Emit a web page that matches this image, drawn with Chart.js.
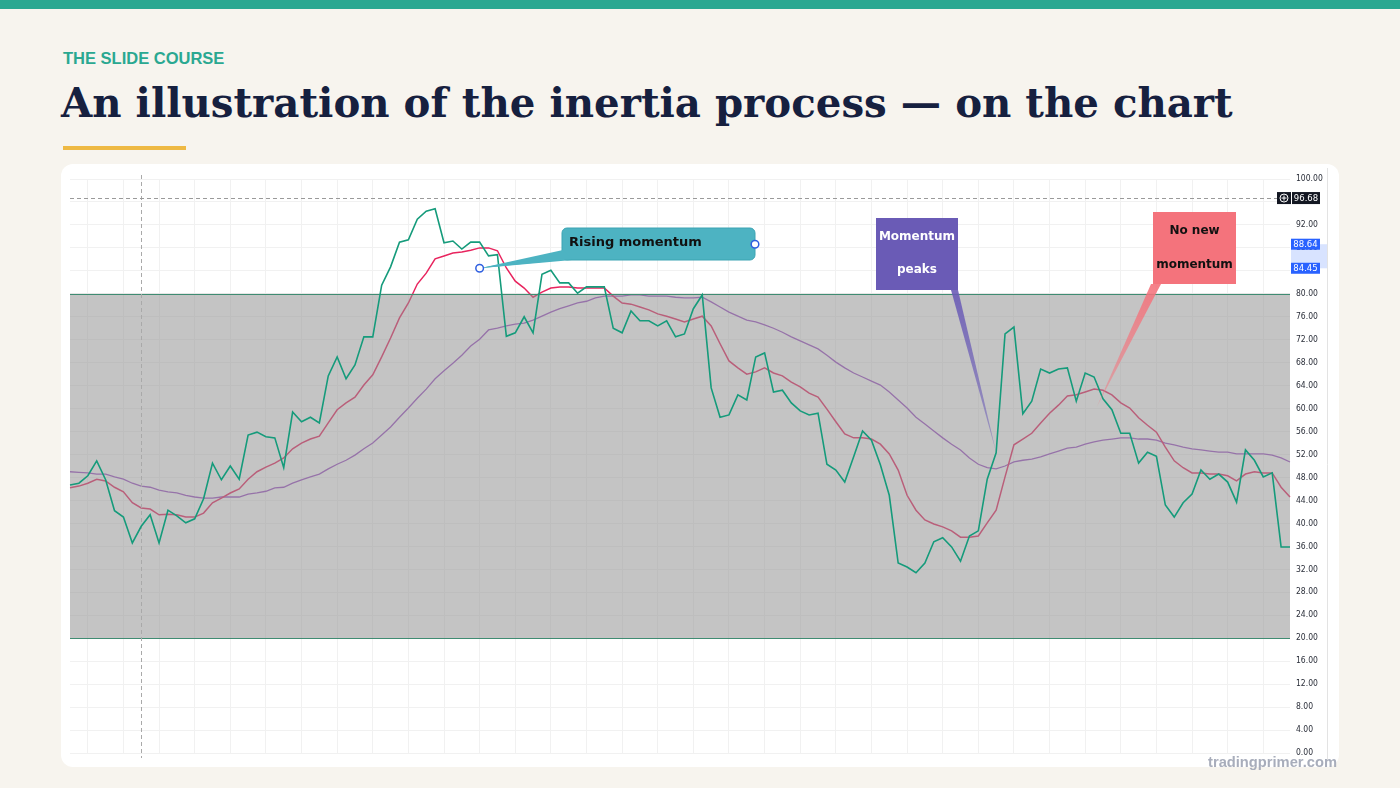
<!DOCTYPE html>
<html><head><meta charset="utf-8">
<script src="https://cdn.jsdelivr.net/npm/chart.js@4.4.1/dist/chart.umd.min.js"></script>
<style>
html,body{margin:0;padding:0;}
body{width:1400px;height:788px;background:#f7f4ee;position:relative;overflow:hidden;font-family:"Liberation Sans",Arial,sans-serif;}
.topbar{position:absolute;left:0;top:0;width:1400px;height:9px;background:#2aa891;}
.kicker{position:absolute;left:63px;top:48px;font-size:16.5px;font-weight:bold;color:#2aa891;line-height:20px;white-space:nowrap;}
.title{position:absolute;left:61px;top:78px;font-family:"DejaVu Serif";font-weight:bold;font-size:40.3px;color:#16203f;white-space:nowrap;line-height:50px;}
.rule{position:absolute;left:63px;top:146px;width:123px;height:4px;background:#eeb944;}
.card{position:absolute;left:61px;top:164px;width:1278px;height:603px;background:#fff;border-radius:12px;}
#wrap{position:absolute;left:61px;top:164px;width:1278px;height:603px;}
.wm{position:absolute;right:63px;top:754px;font-weight:bold;font-size:14.7px;color:#a8adbb;white-space:nowrap;}
</style>
</head><body>
<div class="topbar"></div>
<div class="kicker">THE SLIDE COURSE</div>
<div class="title" id="title">An illustration of the inertia process — on the chart</div>
<div class="rule"></div>
<div class="card"></div>
<div id="wrap"><canvas id="c" width="1278" height="603"></canvas></div>
<div class="wm">tradingprimer.com</div>
<script>
// ---- data ----
const oscillator = [46.7,47.0,48.3,50.9,47.6,42.2,41.1,36.6,39.5,41.5,
 36.6,42.3,41.3,40.1,40.8,44.3,50.5,47.6,50.0,47.7,
 55.4,55.9,55.1,54.9,49.7,59.4,57.7,58.5,57.5,65.7,
 69.0,65.2,67.6,72.5,72.5,81.5,84.7,89.0,89.4,93.0,
 94.4,94.8,88.9,89.2,87.8,89.0,89.0,86.6,86.8,72.6,
 73.2,76.0,73.2,83.4,84.1,81.9,81.9,80.1,81.2,81.2,
 81.2,74.0,73.2,77.0,75.3,75.3,74.4,75.3,72.5,73.0,
 77.4,79.8,63.6,58.5,58.9,62.4,61.5,69.0,69.7,62.9,
 63.2,61.0,59.6,58.9,59.2,50.3,49.3,47.2,51.6,56.1,
 54.5,50.2,44.9,33.1,32.4,31.4,33.1,36.8,37.5,35.9,
 33.4,37.8,38.7,47.7,52.3,73.0,74.2,59.1,61.3,66.9,
 66.2,66.9,67.1,61.3,66.2,65.5,61.7,59.8,55.7,55.7,
 50.5,52.4,51.7,43.2,41.1,43.6,45.1,49.3,47.7,48.6,
 47.2,43.7,52.8,51.0,48.1,48.8,35.9,35.9];
const fastAverage = [46.2,46.5,47.0,47.7,47.4,46.3,45.5,43.6,42.7,42.5,
 41.5,41.6,41.5,41.1,41.1,41.8,43.6,44.4,45.3,46.0,
 47.7,49.0,49.8,50.5,51.4,53.0,54.0,54.7,55.2,57.5,
 59.8,61.0,62.0,64.1,65.9,69.0,72.3,75.8,78.4,81.7,
 83.6,86.1,86.6,87.1,87.3,87.6,88.0,88.0,87.5,84.5,
 82.2,81.0,79.4,80.3,81.0,81.2,81.2,81.0,81.0,81.0,
 81.0,79.6,78.4,78.2,77.7,77.2,76.5,76.1,75.6,75.1,
 75.6,76.1,74.4,71.3,68.3,67.1,66.0,66.4,67.1,66.2,
 65.7,64.6,63.8,62.7,62.0,59.9,57.7,55.6,54.9,54.9,
 54.7,53.8,52.1,49.3,44.9,42.3,40.6,39.9,39.4,38.7,
 37.6,37.6,37.8,40.1,42.3,48.1,53.7,54.7,55.7,57.5,
 59.2,60.6,62.2,62.4,62.9,63.4,63.2,62.4,61.0,60.1,
 58.4,57.1,55.9,53.3,50.9,49.7,48.8,48.8,48.6,48.6,
 48.3,47.4,48.6,49.0,48.8,48.8,46.3,44.6];
const slowAverage = [49.0,48.9,48.8,48.6,48.6,48.1,47.7,47.0,46.5,46.3,
 45.8,45.5,45.3,44.9,44.6,44.4,44.4,44.6,44.6,44.6,
 45.1,45.3,45.6,46.2,46.3,47.0,47.6,48.1,48.6,49.5,
 50.3,51.0,51.9,53.0,54.0,55.4,56.8,58.5,60.1,61.8,
 63.4,65.2,66.6,67.9,69.3,70.9,72.1,73.7,74.0,74.4,
 74.7,74.9,75.4,76.1,76.8,77.4,77.9,78.4,78.7,79.3,
 79.6,79.6,79.6,79.8,79.8,79.6,79.6,79.6,79.4,79.3,
 79.3,79.4,78.6,77.7,76.8,76.1,75.4,75.1,74.6,74.0,
 73.3,72.5,71.8,71.1,70.4,69.3,68.1,67.1,66.2,65.5,
 64.8,64.1,62.9,61.5,60.1,58.5,57.3,56.1,54.9,53.8,
 52.8,51.4,50.3,49.7,49.5,50.0,50.7,51.0,51.2,51.6,
 52.1,52.6,53.1,53.3,53.8,54.2,54.5,54.7,54.9,54.9,
 54.7,54.7,54.5,54.0,53.7,53.3,53.0,52.8,52.6,52.4,
 52.4,52.1,52.1,52.1,52.1,51.9,51.4,50.7];
const bars = oscillator.map((_, i) => String(i + 1));
const yTickValues = [0,4,8,12,16,20,24,28,32,36,40,44,48,52,56,60,64,68,72,76,80,84,88,92,96,100];
const bandLevels = [20, 80];
const lastPrice = 96.68;
const rangeMarks = [88.64, 84.45];
const crosshairBar = 8;
const noteTexts = [['Rising momentum'], ['Momentum', 'peaks'], ['No new', 'momentum']];
const noteTips = [[46, 84.45], [104, 52.4], [115.3, 60.3]];

// ---- annotation styling (pixel geometry relative to the card) ----
const notes = [
  {text: noteTexts[0], tip: noteTips[0], box: [501, 64, 193, 32], fill: '#4db3c2', stroke: '#3ca4b3', color: '#111', align: 'left', tx: 7, ty: [15], base: [[0, -8], [10, 0]], tail: ['rgba(77,179,194,1)', 'rgba(77,179,194,1)'], radius: 5, handles: true},
  {text: noteTexts[1], tip: noteTips[1], box: [815, 54, 82, 72], fill: '#6a5bb6', stroke: null, color: '#ffffff', align: 'center', ty: [19, 52], base: [[75, 0], [82, 0]], tail: ['rgba(106,91,182,0.9)', 'rgba(106,91,182,0.45)'], radius: 0},
  {text: noteTexts[2], tip: noteTips[2], box: [1092, 48, 83, 72], fill: '#f4737c', stroke: null, color: '#111', align: 'center', ty: [19, 53], base: [[-2, 0], [8, 0]], tail: ['rgba(244,115,124,0.9)', 'rgba(244,115,124,0.4)'], radius: 0}
];

const scene = {
  id: 'scene',
  afterDatasetDraw(chart, args) {
    if (args.index !== 1) return;
    const {ctx, chartArea: a, scales: {x, y}} = chart;
    const yTop = y.getPixelForValue(bandLevels[1]);
    const yBot = y.getPixelForValue(bandLevels[0]);
    ctx.save();
    ctx.fillStyle = 'rgba(146,146,146,0.54)';
    ctx.fillRect(a.left, yTop, a.right - a.left, yBot - yTop);
    ctx.strokeStyle = '#3f8c72';
    ctx.lineWidth = 1;
    ctx.beginPath();
    ctx.moveTo(a.left, Math.round(yTop) + 0.5); ctx.lineTo(a.right, Math.round(yTop) + 0.5);
    ctx.moveTo(a.left, Math.round(yBot) + 0.5); ctx.lineTo(a.right, Math.round(yBot) + 0.5);
    ctx.stroke();
    // crosshair
    const cx = Math.round(x.getPixelForValue(crosshairBar)) + 0.5;
    ctx.strokeStyle = '#a9a9a9';
    ctx.setLineDash([4, 3]);
    ctx.beginPath(); ctx.moveTo(cx, a.top - 4); ctx.lineTo(cx, a.bottom + 5); ctx.stroke();
    // last price line
    const py = Math.round(y.getPixelForValue(lastPrice)) + 0.5;
    ctx.strokeStyle = '#9a9a9a';
    ctx.beginPath(); ctx.moveTo(a.left, py); ctx.lineTo(a.right - 13, py); ctx.stroke();
    ctx.restore();
  },
  afterDatasetsDraw(chart) {
    const {ctx, scales: {x, y}} = chart;
    ctx.save();
    for (const n of notes) {
      const [bx, by, bw, bh] = n.box;
      const tx = x.getPixelForValue(n.tip[0]);
      const ty = y.getPixelForValue(n.tip[1]);
      const b1 = [bx + n.base[0][0], by + bh + n.base[0][1]];
      const b2 = [bx + n.base[1][0], by + bh + n.base[1][1]];
      const g = ctx.createLinearGradient(b1[0], b1[1], tx, ty);
      g.addColorStop(0, n.tail[0]); g.addColorStop(1, n.tail[1]);
      ctx.fillStyle = g;
      ctx.beginPath(); ctx.moveTo(b1[0], b1[1]); ctx.lineTo(b2[0], b2[1]); ctx.lineTo(tx, ty); ctx.closePath(); ctx.fill();
      ctx.fillStyle = n.fill;
      ctx.beginPath();
      if (n.radius) ctx.roundRect(bx, by, bw, bh, n.radius); else ctx.rect(bx, by, bw, bh);
      ctx.fill();
      if (n.stroke) { ctx.strokeStyle = n.stroke; ctx.lineWidth = 1; ctx.stroke(); }
      if (n.handles) {
        ctx.fillStyle = n.fill;
        ctx.beginPath(); ctx.moveTo(b1[0] + 1, b1[1] - 2); ctx.lineTo(b2[0], b2[1] - 1); ctx.lineTo(tx, ty); ctx.closePath(); ctx.fill();
      }
      ctx.fillStyle = n.color;
      ctx.font = (n.align === 'left' ? 'bold 13px' : 'bold 12px') + ' "DejaVu Sans"';
      ctx.textBaseline = 'middle';
      ctx.textAlign = n.align;
      n.text.forEach((t, k) => {
        const px = n.align === 'left' ? bx + n.tx : bx + bw / 2;
        ctx.fillText(t, px, by + n.ty[k]);
      });
      if (n.handles) {
        ctx.lineWidth = 1.5; ctx.strokeStyle = '#2f5fe0'; ctx.fillStyle = '#ffffff';
        for (const [hx, hy] of [[tx, ty], [bx + bw, y.getPixelForValue(rangeMarks[0])]]) {
          ctx.beginPath(); ctx.arc(hx, hy, 3.8, 0, Math.PI * 2); ctx.fill(); ctx.stroke();
        }
      }
    }
    ctx.restore();
  },
  afterDraw(chart) {
    const {ctx, chartArea: a, scales: {y}} = chart;
    ctx.save();
    ctx.strokeStyle = '#e3e3e3'; ctx.lineWidth = 1;
    ctx.beginPath(); ctx.moveTo(a.right + 37.5, 4); ctx.lineTo(a.right + 37.5, a.bottom + 8); ctx.stroke();
    const r0 = y.getPixelForValue(rangeMarks[0]);
    const r1 = y.getPixelForValue(rangeMarks[1]);
    ctx.fillStyle = 'rgba(41,98,255,0.18)';
    ctx.fillRect(a.right + 1, r0, 36, r1 - r0);
    ctx.font = '8.5px "DejaVu Sans"';
    ctx.textBaseline = 'middle'; ctx.textAlign = 'center';
    for (const v of rangeMarks) {
      const py = y.getPixelForValue(v);
      ctx.fillStyle = '#2962ff';
      ctx.fillRect(a.right + 1, py - 5.5, 29, 11);
      ctx.fillStyle = '#ffffff';
      ctx.fillText(v.toFixed(2), a.right + 15.5, py + 0.5);
    }
    const py = y.getPixelForValue(lastPrice);
    ctx.fillStyle = '#131722';
    ctx.fillRect(a.right - 13, py - 6, 14, 12);
    ctx.fillRect(a.right + 2, py - 6, 28, 12);
    ctx.strokeStyle = '#ffffff'; ctx.lineWidth = 1;
    ctx.beginPath(); ctx.arc(a.right - 6, py, 4, 0, Math.PI * 2); ctx.stroke();
    ctx.beginPath(); ctx.moveTo(a.right - 8.5, py); ctx.lineTo(a.right - 3.5, py); ctx.moveTo(a.right - 6, py - 2.5); ctx.lineTo(a.right - 6, py + 2.5); ctx.stroke();
    ctx.fillStyle = '#ffffff';
    ctx.fillText(lastPrice.toFixed(2), a.right + 16, py + 0.5);
    ctx.restore();
  }
};

new Chart(document.getElementById('c'), {
  type: 'line',
  data: {
    labels: bars,
    datasets: [
      {label: 'Oscillator', data: oscillator, borderColor: '#159b7b', borderWidth: 1.6},
      {label: 'Fast average', data: fastAverage, borderColor: '#e8245e', borderWidth: 1.5},
      {label: 'Slow average', data: slowAverage, borderColor: '#9c4fc4', borderWidth: 1.3}
    ]
  },
  options: {
    responsive: false,
    animation: false,
    devicePixelRatio: 1,
    events: [],
    elements: {point: {radius: 0}, line: {tension: 0}},
    layout: {padding: {left: 9, top: 15, right: 0, bottom: 0}},
    plugins: {legend: {display: false}, tooltip: {enabled: false}},
    scales: {
      x: {
        type: 'category', offset: false,
        border: {display: false},
        grid: {drawTicks: false, color: (c) => (c.index % 4 === 2 ? '#f1f1f1' : 'rgba(0,0,0,0)')},
        ticks: {display: false, autoSkip: false},
        afterFit: (s) => { s.height = 14; }
      },
      y: {
        position: 'right', min: 0, max: 100,
        border: {display: false},
        grid: {drawTicks: false, color: '#f1f1f1'},
        afterBuildTicks: (s) => { s.ticks = yTickValues.map((v) => ({value: v})); },
        ticks: {padding: 6, color: '#2a2e39', font: {family: '"DejaVu Sans Condensed", "DejaVu Sans"', size: 8.5}, callback: (v) => Number(v).toFixed(2)},
        afterFit: (s) => { s.width = 49; }
      }
    }
  },
  plugins: [scene]
});
</script>
</body></html>
